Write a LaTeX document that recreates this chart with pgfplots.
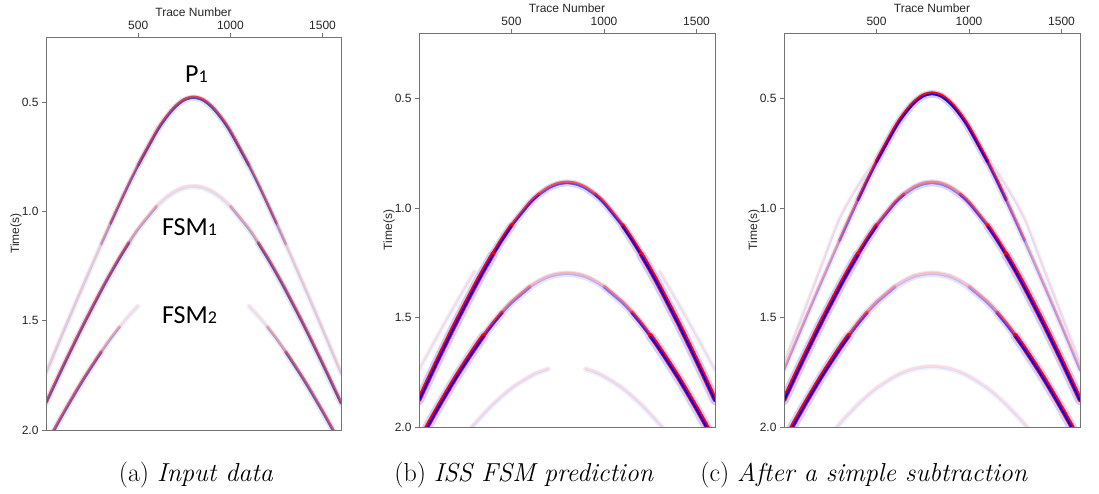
\documentclass[border=0pt]{standalone}
\usepackage{fontspec}
\usepackage{pgfplots}
\usepackage{pgfplotstable}
\pgfplotsset{compat=1.18}
\newfontfamily\arial{Liberation Sans}
\newfontfamily\calibri{Carlito}

\definecolor{ared}{RGB}{225,40,60}
\definecolor{ablue}{RGB}{45,55,170}
\definecolor{cred}{RGB}{255,0,0}
\definecolor{cblue}{RGB}{0,0,255}

% Event times (s) read along each reflection, trace 0..1600
\pgfplotstableread{
x t
0 1.741
100 1.540
200 1.343
300 1.150
350 1.056
400 0.964
450 0.874
500 0.789
600 0.635
650 0.572
700 0.522
750 0.489
800 0.478
850 0.489
900 0.522
950 0.572
1000 0.635
1100 0.789
1150 0.874
1200 0.964
1250 1.056
1300 1.150
1400 1.343
1500 1.540
1600 1.741
}\Pone

\pgfplotstableread{
x t
0 1.878
100 1.698
200 1.525
300 1.362
350 1.285
400 1.212
450 1.144
500 1.081
600 0.977
650 0.938
700 0.909
750 0.891
800 0.885
850 0.891
900 0.909
950 0.938
1000 0.977
1100 1.081
1150 1.144
1200 1.212
1250 1.285
1300 1.362
1400 1.525
1500 1.698
1600 1.878
}\FSMone

\pgfplotstableread{
x t
0 2.069
100 1.917
200 1.774
300 1.644
350 1.584
400 1.529
450 1.478
500 1.433
600 1.361
650 1.335
700 1.315
750 1.304
800 1.300
850 1.304
900 1.315
950 1.335
1000 1.361
1100 1.433
1150 1.478
1200 1.529
1250 1.584
1300 1.644
1400 1.774
1500 1.917
1600 2.069
}\FSMtwo

\pgfplotstableread{
x t
100 2.211
200 2.093
300 1.988
400 1.898
500 1.824
600 1.770
650 1.750
700 1.736
750 1.728
800 1.725
850 1.728
900 1.736
950 1.750
1000 1.770
1100 1.824
1200 1.898
1300 1.988
1400 2.093
1500 2.211
}\FSMthree

\pgfplotstableread{
x t
0 1.71
100 1.49
200 1.27
300 1.05
400 0.90
500 0.775
550 0.72
1050 0.72
1100 0.775
1200 0.90
1300 1.05
1400 1.27
1500 1.49
1600 1.71
}\Ghost

\pgfplotstableread{
x t
0 1.74
100 1.585
200 1.435
300 1.29
1300 1.29
1400 1.435
1500 1.585
1600 1.74
}\Ghostb

% event segment: #1 table, #2 trace range, #3 line strength, #4 halo strength, #5 width factor, #6 red, #7 blue
\newcommand{\evh}[7]{%
\addplot[smooth, no markers, line cap=round, line width=7pt*#5, draw=#7!#4!white, restrict x to domain=#2] table {#1};}
\newcommand{\evl}[7]{%
\addplot[smooth, no markers, line cap=round, line width=3.4pt*#5, draw=#6!#3!white, yshift=0.6pt, restrict x to domain=#2] table {#1};
\addplot[smooth, no markers, line cap=round, line width=1.4pt*#5, draw=#7!#3!white, yshift=-0.5pt, restrict x to domain=#2] table {#1};}

\newcommand{\segsA}{%
\seg{\FSMtwo}{400:500}{15}{5}{0.8}{ared}{ablue}
\seg{\FSMtwo}{1100:1200}{15}{5}{0.8}{ared}{ablue}
\seg{\FSMtwo}{300:400}{45}{8}{0.8}{ared}{ablue}
\seg{\FSMtwo}{1200:1300}{45}{8}{0.8}{ared}{ablue}
\seg{\FSMtwo}{0:300}{80}{12}{0.9}{ared}{ablue}
\seg{\FSMtwo}{1300:1600}{80}{12}{0.9}{ared}{ablue}
\seg{\Pone}{0:300}{25}{6}{0.8}{ared}{ablue}
\seg{\Pone}{1300:1600}{25}{6}{0.8}{ared}{ablue}
\seg{\Pone}{300:350}{50}{10}{0.8}{ared}{ablue}
\seg{\Pone}{1250:1300}{50}{10}{0.8}{ared}{ablue}
\seg{\FSMone}{600:1000}{18}{8}{0.8}{ared}{ablue}
\seg{\FSMone}{450:600}{45}{10}{0.8}{ared}{ablue}
\seg{\FSMone}{1000:1150}{45}{10}{0.8}{ared}{ablue}
\seg{\FSMone}{0:450}{85}{14}{0.9}{ared}{ablue}
\seg{\FSMone}{1150:1600}{85}{14}{0.9}{ared}{ablue}
\seg{\Pone}{350:500}{80}{14}{0.8}{ared}{ablue}
\seg{\Pone}{1100:1250}{80}{14}{0.8}{ared}{ablue}
\seg{\Pone}{500:1100}{90}{16}{0.9}{ared}{ablue}}

\newcommand{\segsB}{%
\seg{\FSMthree}{100:720}{15}{5}{0.8}{cred}{cblue}
\seg{\FSMthree}{880:1500}{15}{5}{0.8}{cred}{cblue}
\seg{\Ghostb}{0:300}{13}{4}{0.7}{cred}{cblue}
\seg{\Ghostb}{1300:1600}{13}{4}{0.7}{cred}{cblue}
\seg{\FSMtwo}{600:1000}{30}{10}{0.9}{cred}{cblue}
\seg{\FSMtwo}{450:600}{55}{12}{1}{cred}{cblue}
\seg{\FSMtwo}{1000:1150}{55}{12}{1}{cred}{cblue}
\seg{\FSMtwo}{350:450}{85}{15}{1.1}{cred}{cblue}
\seg{\FSMtwo}{1150:1250}{85}{15}{1.1}{cred}{cblue}
\seg{\FSMtwo}{0:350}{100}{18}{1.4}{cred}{cblue}
\seg{\FSMtwo}{1250:1600}{100}{18}{1.4}{cred}{cblue}
\seg{\FSMone}{650:950}{70}{16}{1}{cred}{cblue}
\seg{\FSMone}{500:650}{85}{16}{1}{cred}{cblue}
\seg{\FSMone}{950:1100}{85}{16}{1}{cred}{cblue}
\seg{\FSMone}{400:500}{100}{18}{1.2}{cred}{cblue}
\seg{\FSMone}{1100:1200}{100}{18}{1.2}{cred}{cblue}
\seg{\FSMone}{0:400}{100}{20}{1.4}{cred}{cblue}
\seg{\FSMone}{1200:1600}{100}{20}{1.4}{cred}{cblue}}

\newcommand{\segsC}{%
\seg{\FSMthree}{100:1500}{14}{5}{0.8}{cred}{cblue}
\seg{\Ghost}{0:550}{14}{3}{0.7}{cred}{cblue}
\seg{\Ghost}{1050:1600}{14}{3}{0.7}{cred}{cblue}
\seg{\FSMtwo}{600:1000}{25}{10}{0.9}{cred}{cblue}
\seg{\FSMtwo}{450:600}{45}{12}{1}{cred}{cblue}
\seg{\FSMtwo}{1000:1150}{45}{12}{1}{cred}{cblue}
\seg{\FSMtwo}{350:450}{75}{14}{1.1}{cred}{cblue}
\seg{\FSMtwo}{1150:1250}{75}{14}{1.1}{cred}{cblue}
\seg{\FSMtwo}{0:350}{100}{18}{1.4}{cred}{cblue}
\seg{\FSMtwo}{1250:1600}{100}{18}{1.4}{cred}{cblue}
\seg{\FSMone}{650:950}{50}{15}{1}{cred}{cblue}
\seg{\FSMone}{500:650}{75}{15}{1}{cred}{cblue}
\seg{\FSMone}{950:1100}{75}{15}{1}{cred}{cblue}
\seg{\FSMone}{400:500}{95}{18}{1.2}{cred}{cblue}
\seg{\FSMone}{1100:1200}{95}{18}{1.2}{cred}{cblue}
\seg{\FSMone}{0:400}{100}{20}{1.4}{cred}{cblue}
\seg{\FSMone}{1200:1600}{100}{20}{1.4}{cred}{cblue}
\seg{\Pone}{0:300}{40}{8}{0.8}{cred}{cblue}
\seg{\Pone}{1300:1600}{40}{8}{0.8}{cred}{cblue}
\seg{\Pone}{300:400}{60}{10}{0.9}{cred}{cblue}
\seg{\Pone}{1200:1300}{60}{10}{0.9}{cred}{cblue}
\seg{\Pone}{400:500}{85}{14}{1}{cred}{cblue}
\seg{\Pone}{1100:1200}{85}{14}{1}{cred}{cblue}
\seg{\Pone}{500:1100}{100}{18}{1.1}{cred}{cblue}}

\pgfplotsset{panel/.style={
  scale only axis,
  xmin=0, xmax=1600, ymin=0.2, ymax=2.0, y dir=reverse,
  xtick={500,1000,1500}, xticklabels={500,1000,1500},
  ytick={0.5,1,1.5,2}, yticklabels={0.5,1.0,1.5,2.0},
  xtick pos=right, xticklabel pos=right, ytick pos=left,
  tick align=outside, major tick length=4pt,
  axis line style={draw=black!55, line width=0.9pt},
  tick style={draw=black!55, line width=0.8pt},
  ticklabel style={font=\arial\fontsize{12}{14}\selectfont, text=black!85},
  axis on top, clip mode=individual,
}}
\newcommand{\panellabels}{%
\node[anchor=base, font=\arial\fontsize{12}{14}\selectfont, text=black!85] at ([yshift=21pt]rel axis cs:0.5,1) {Trace Number};
\node[rotate=90, anchor=center, font=\arial\fontsize{12}{14}\selectfont, text=black!85] at ([xshift=-30pt]rel axis cs:0,0.5) {Time(s)};
}

\begin{document}
\begin{tikzpicture}
\path[use as bounding box] (0,0) rectangle (1099pt,-493pt);

% (a) Input data
\begin{axis}[panel, at={(46pt,-430pt)}, anchor=south west, width=295pt, height=393pt]
\let\seg\evh \segsA
\let\seg\evl \segsA
\panellabels
\node[anchor=base, inner sep=0pt, font=\calibri\fontsize{26}{30}\selectfont] at (axis cs:816,0.408) {P{\fontsize{18}{20}\selectfont 1}};
\node[anchor=base west, inner sep=0pt, font=\calibri\fontsize{26}{30}\selectfont] at (axis cs:629,1.107) {FSM{\fontsize{18}{20}\selectfont 1}};
\node[anchor=base west, inner sep=0pt, font=\calibri\fontsize{26}{30}\selectfont] at (axis cs:629,1.510) {FSM{\fontsize{18}{20}\selectfont 2}};
\end{axis}

% (b) ISS FSM prediction
\begin{axis}[panel, at={(419pt,-427pt)}, anchor=south west, width=296pt, height=394pt]
\let\seg\evh \segsB
\let\seg\evl \segsB
\panellabels
\end{axis}

% (c) After a simple subtraction
\begin{axis}[panel, at={(784pt,-427pt)}, anchor=south west, width=296pt, height=394pt]
\let\seg\evh \segsC
\let\seg\evl \segsC
\panellabels
\end{axis}

\node[anchor=base, font=\fontsize{26}{30}\selectfont] at (196pt,-481pt) {(a) \textit{Input data}};
\node[anchor=base, font=\fontsize{26}{30}\selectfont] at (524pt,-481pt) {(b) \textit{ISS FSM prediction}};
\node[anchor=base, font=\fontsize{26}{30}\selectfont] at (864pt,-481pt) {(c) \textit{After a simple subtraction}};
\end{tikzpicture}
\end{document}
